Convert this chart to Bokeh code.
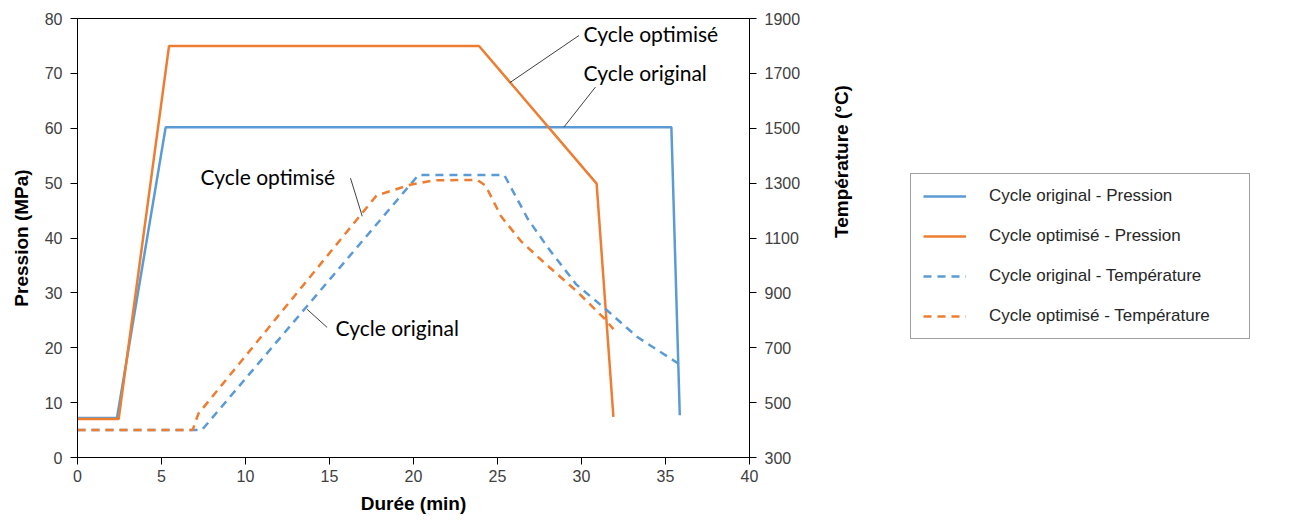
import math
from bokeh.plotting import figure
from bokeh.layouts import row
from bokeh.models import Range1d, LinearAxis, FixedTicker, Legend, LegendItem
from bokeh.core.properties import value
from bokeh.embed import file_html
from bokeh.resources import INLINE

# ---------------- data ----------------
x_ticks = [0, 5, 10, 15, 20, 25, 30, 35, 40]
p_ticks = [0, 10, 20, 30, 40, 50, 60, 70, 80]
temp_ticks = [300, 500, 700, 900, 1100, 1300, 1500, 1700, 1900]

orig_p_t = [0, 2.35, 5.25, 35.35, 35.85]
orig_p_v = [7.2, 7.2, 60.2, 60.2, 7.7]

opt_p_t = [0, 2.45, 5.45, 23.9, 30.9, 31.9]
opt_p_v = [7.0, 7.0, 75.0, 75.0, 49.9, 7.4]

orig_T_t = [0, 7.4, 20.3, 25.4, 26.8, 28.0, 29.7, 31.3, 33.3, 35.8]
orig_T_v = [400, 400, 1330, 1330, 1170, 1065, 930, 848, 740, 641]

opt_T_t = [0, 6.85, 7.2, 17.8, 19.8, 21.2, 23.8, 24.3, 25.2, 26.4, 28.0, 29.7, 31.4, 31.9]
opt_T_v = [400, 400, 460, 1255, 1294, 1310, 1312, 1290, 1180, 1088, 998, 907, 804, 768]

legend_labels = ["Cycle original - Pression", "Cycle optimisé - Pression",
                 "Cycle original - Température", "Cycle optimisé - Température"]

# annotations (data coords of the pressure axis)
ann_text = ["Cycle optimisé", "Cycle original", "Cycle optimisé", "Cycle original"]
ann_x = [30.12, 30.12, 7.32, 15.36]
ann_y = [77.3, 70.2, 51.2, 23.6]
lead_x0 = [29.85, 30.83, 16.25, 14.86]
lead_y0 = [76.9, 67.5, 50.9, 23.7]
lead_x1 = [25.73, 28.95, 16.95, 13.67]
lead_y1 = [68.3, 60.2, 43.95, 27.0]

BLUE = "#5B9BD5"
ORANGE = "#ED7D31"
series = [(orig_p_t, orig_p_v, BLUE, "solid"),
          (opt_p_t, opt_p_v, ORANGE, "solid"),
          (orig_T_t, orig_T_v, BLUE, "8 6"),
          (opt_T_t, opt_T_v, ORANGE, "8 6")]

# ---------------- main figure ----------------
p = figure(width=880, height=516, x_range=Range1d(0, 40), y_range=Range1d(0, 80),
           output_backend="svg", toolbar_location=None, title=None,
           min_border_left=77, min_border_right=131, min_border_top=18,
           min_border_bottom=57)
p.extra_y_ranges = {"temp": Range1d(300, 1900)}
p.xgrid.visible = False
p.ygrid.visible = False
p.outline_line_color = "black"
p.outline_line_width = 1
p.background_fill_color = "white"
p.border_fill_color = "white"


def style_axis(ax, ticks):
    ax.ticker = FixedTicker(ticks=ticks)
    ax.axis_line_color = "black"
    ax.axis_line_width = 1
    ax.major_tick_line_color = "black"
    ax.major_tick_out = 7
    ax.major_tick_in = 0
    ax.minor_tick_line_color = None
    ax.major_label_text_font = "Liberation Sans"
    ax.major_label_text_font_size = "16px"
    ax.major_label_text_color = "#404040"
    ax.axis_label_text_font = "Liberation Sans"
    ax.axis_label_text_font_size = "19px"
    ax.axis_label_text_font_style = "bold"
    ax.axis_label_text_color = "black"


style_axis(p.xaxis[0], x_ticks)
p.xaxis[0].axis_label = "Durée (min)"
p.xaxis[0].major_label_standoff = 5
p.xaxis[0].axis_label_standoff = 8

style_axis(p.yaxis[0], p_ticks)
p.yaxis[0].axis_label = "Pression (MPa)"
p.yaxis[0].major_label_standoff = 8
p.yaxis[0].axis_label_standoff = 10

rax = LinearAxis(y_range_name="temp", axis_label="Température (°C)")
style_axis(rax, temp_ticks)
rax.major_label_standoff = 8
rax.axis_label_standoff = 38
rax.axis_label_orientation = math.pi / 2
p.add_layout(rax, "right")

p.line(orig_p_t, orig_p_v, line_color=BLUE, line_width=2.5)
p.line(opt_p_t, opt_p_v, line_color=ORANGE, line_width=2.5)
p.line(orig_T_t, orig_T_v, y_range_name="temp", line_color=BLUE, line_width=2.5,
       line_dash="8 6")
p.line(opt_T_t, opt_T_v, y_range_name="temp", line_color=ORANGE, line_width=2.5,
       line_dash="8 6")

# leader lines & annotation text
p.segment(x0=lead_x0, y0=lead_y0, x1=lead_x1, y1=lead_y1, line_color="#404040",
          line_width=1)
p.text(x=ann_x, y=ann_y, text=ann_text, text_font=value("Lato"),
       text_font_size="21px", text_baseline="middle", text_align="left",
       text_color="black")

# ---------------- legend figure ----------------
# same series, on a range where they fall outside the view: only the legend shows
q = figure(width=430, height=516, x_range=Range1d(-10, -9), y_range=Range1d(-10, -9),
           output_backend="svg", toolbar_location=None, title=None,
           min_border_left=0, min_border_right=0, min_border_top=0,
           min_border_bottom=0)
q.axis.visible = False
q.grid.visible = False
q.outline_line_color = None
q.background_fill_color = "white"
q.border_fill_color = "white"

items = []
for lab, (xs, ys, col, dsh) in zip(legend_labels, series):
    r = q.line(x=xs, y=ys, line_color=col, line_width=2.5, line_dash=dsh)
    items.append(LegendItem(label=lab, renderers=[r]))

legend = Legend(items=items, location=(30, 118), padding=12, spacing=20,
                label_height=20, label_width=248, glyph_height=20, glyph_width=43,
                label_standoff=23, margin=0,
                border_line_color="#404040", border_line_width=1,
                background_fill_color="white", background_fill_alpha=1,
                label_text_font="Liberation Sans", label_text_font_size="17px",
                label_text_color="#262626")
q.add_layout(legend, "center")

layout = row(p, q, spacing=0)
open("out.html", "w").write(file_html(layout, INLINE))
